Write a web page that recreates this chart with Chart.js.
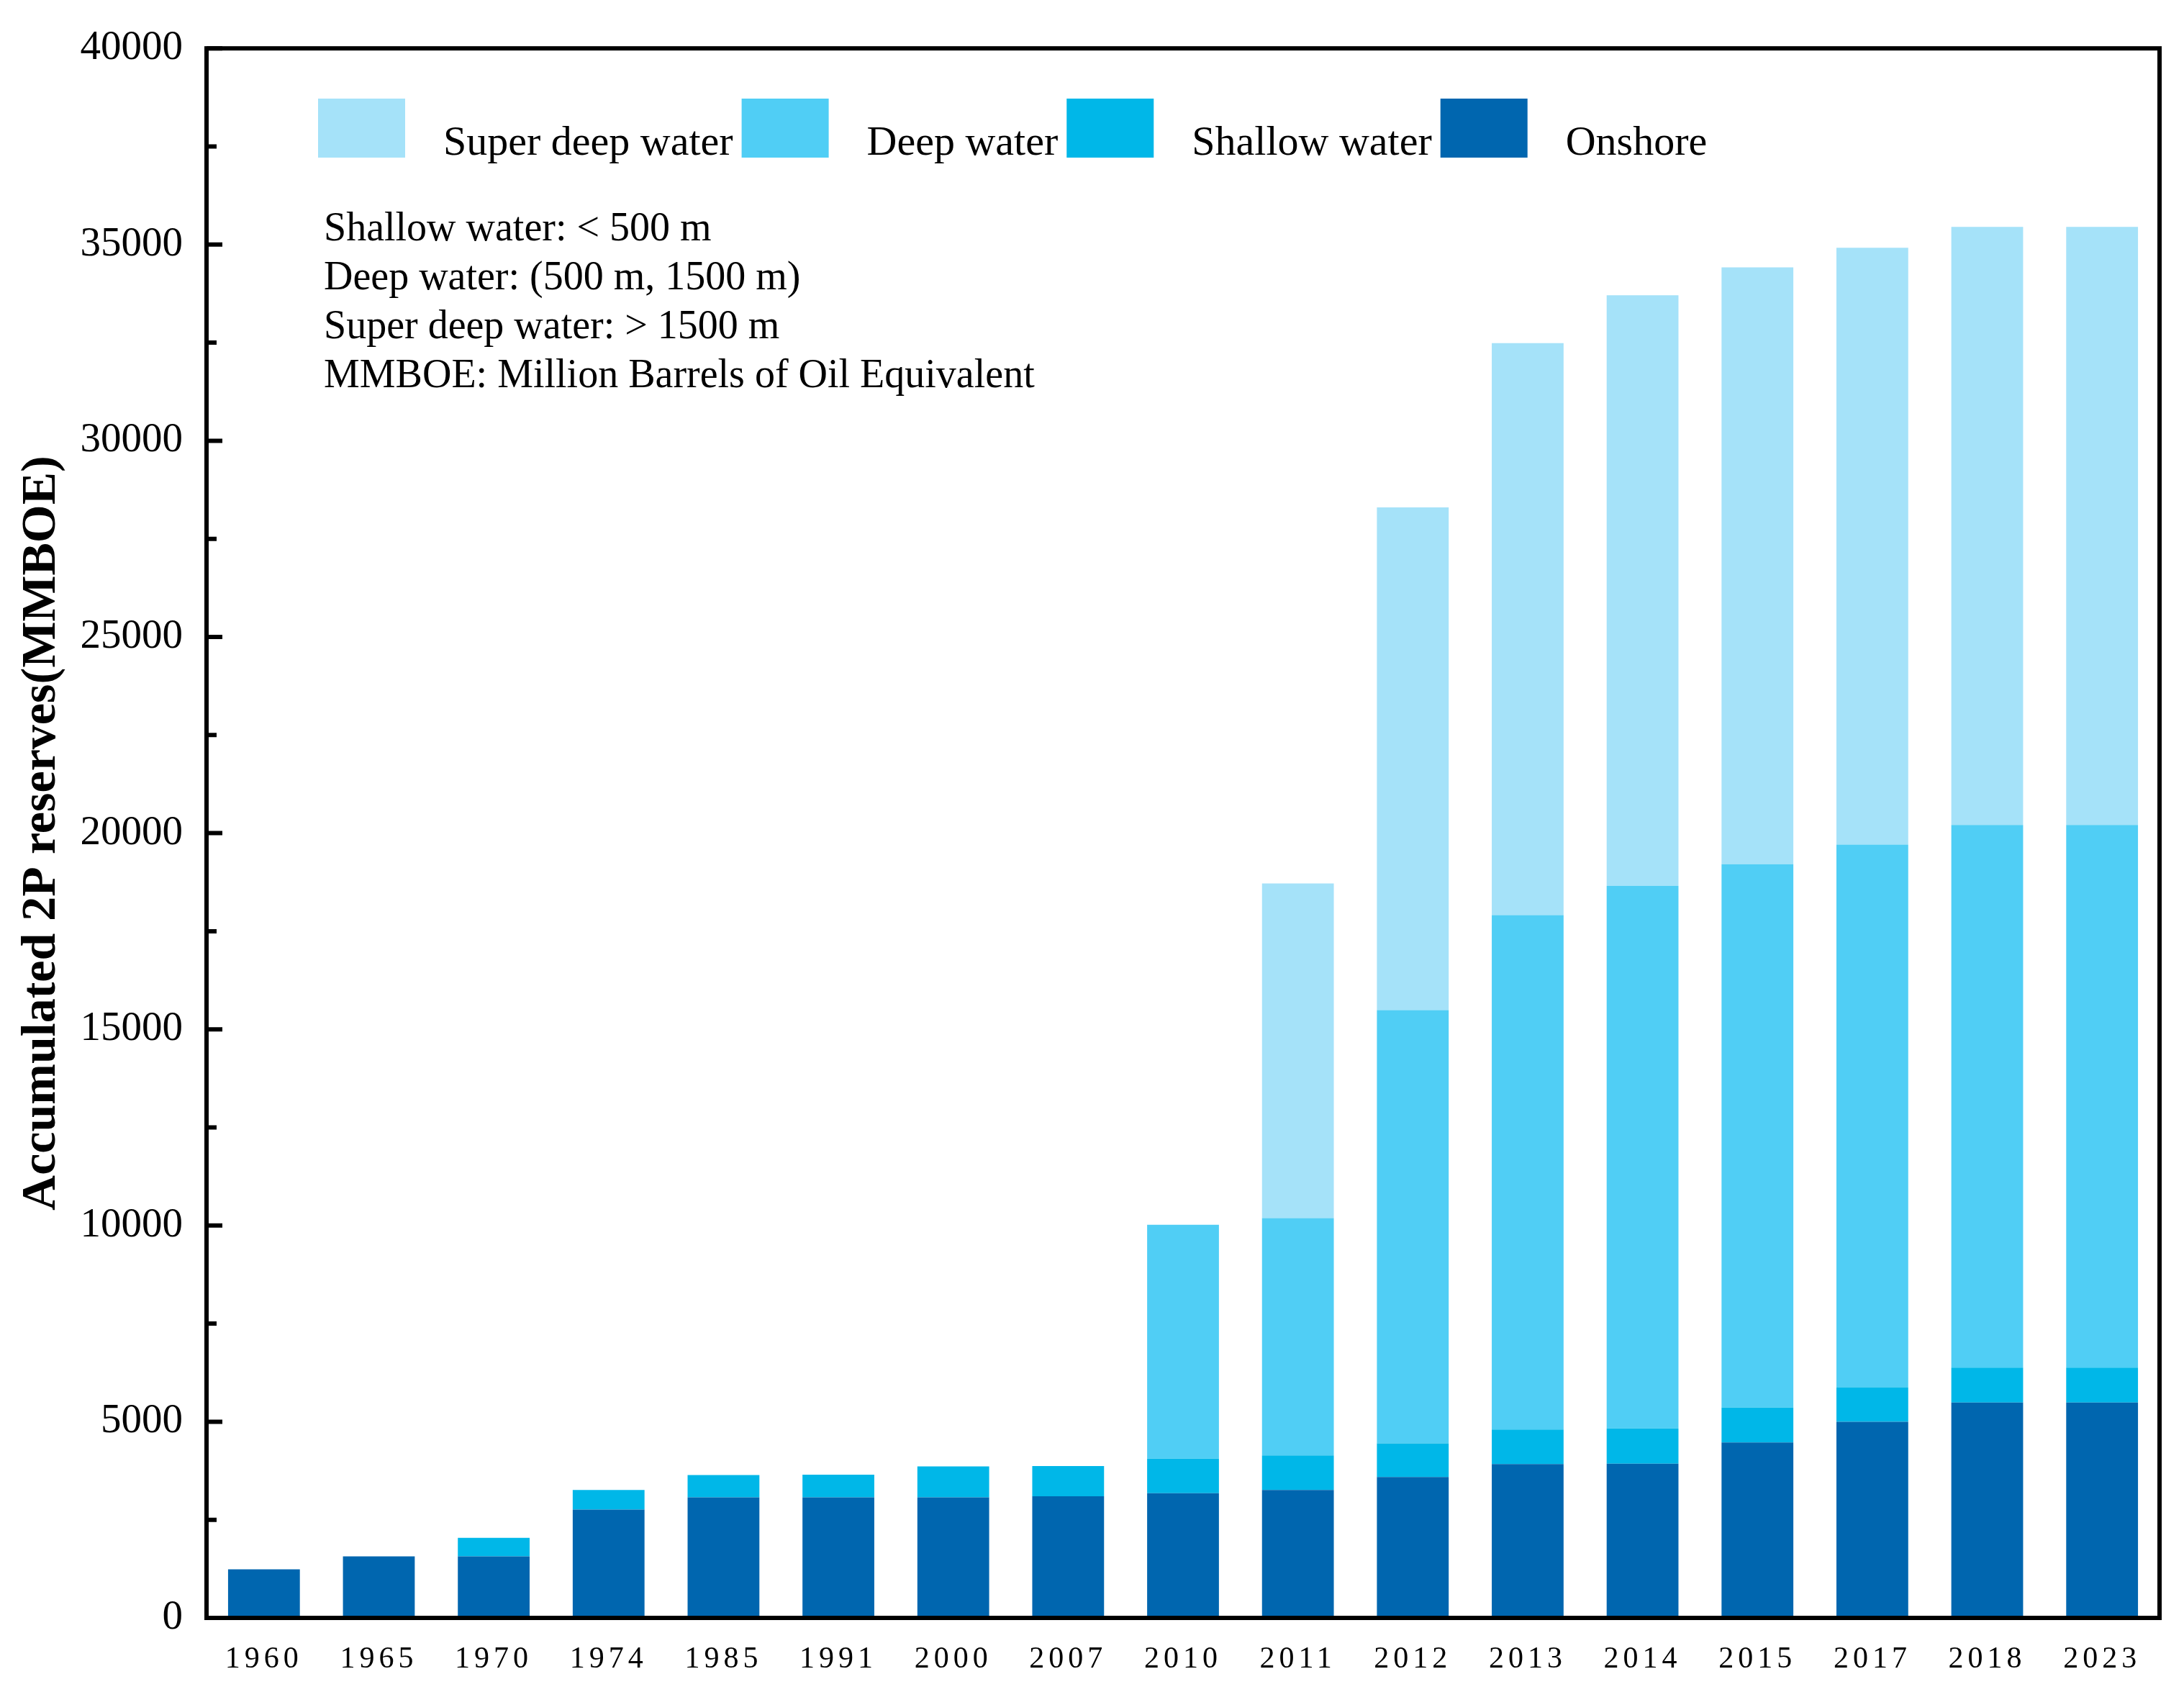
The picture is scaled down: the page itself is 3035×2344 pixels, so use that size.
<!DOCTYPE html>
<html>
<head>
<meta charset="utf-8">
<script src="https://cdn.jsdelivr.net/npm/chart.js@4.4.1/dist/chart.umd.min.js"></script>
<style>
  html, body { margin:0; padding:0; background:#fff; }
  canvas { display:block; }
</style>
</head>
<body>
<canvas id="chart" width="3035" height="2344"></canvas>
<script>
// ===== Data =====
const years = ["1960","1965","1970","1974","1985","1991","2000","2007","2010","2011","2012","2013","2014","2015","2017","2018","2023"];
const onshore   = [1240,1570,1570,2760,3070,3070,3070,3100,3180,3260,3590,3920,3930,4470,5000,5490,5490];
const shallow   = [0,0,470,500,570,580,790,770,880,880,860,880,900,890,880,890,890];
const deep      = [0,0,0,0,0,0,0,0,5960,6050,11040,13110,13830,13850,13830,13830,13830];
const superDeep = [0,0,0,0,0,0,0,0,0,8530,12810,14580,15050,15210,15210,15240,15240];

const yMin = 0, yMax = 40000, yStep = 5000;
const notes = [
  "Shallow water: < 500 m",
  "Deep water: (500 m, 1500 m)",
  "Super deep water: > 1500 m",
  "MMBOE: Million Barrels of Oil Equivalent"
];

// ===== Style =====
const FONT = "'Liberation Serif', 'Times New Roman', serif";
const COLORS = { onshore:"#0066AF", shallow:"#00B7E8", deep:"#50CEF5", superDeep:"#A5E2F9" };

Chart.defaults.font.family = FONT;
Chart.defaults.color = "#000";

// frame + inward y ticks
const framePlugin = {
  id: "frame",
  afterDatasetsDraw(chart) {
    // x labels are drawn after datasets (ticks.z:1) -> spaced out like the reference
    chart.ctx.letterSpacing = "6px";
  },
  afterDraw(chart) {
    const ctx = chart.ctx;
    ctx.letterSpacing = "0px";
    const { left, right, top, bottom } = chart.chartArea;
    const y = chart.scales.y;
    ctx.save();
    ctx.strokeStyle = "#000";
    ctx.lineWidth = 6;
    ctx.beginPath();
    y.ticks.forEach((t, i) => {
      const py = y.getPixelForValue(t.value);
      ctx.moveTo(left, py); ctx.lineTo(left + 22, py);
      if (i < y.ticks.length - 1) {
        const pm = y.getPixelForValue((t.value + y.ticks[i + 1].value) / 2);
        ctx.moveTo(left, pm); ctx.lineTo(left + 14, pm);
      }
    });
    ctx.stroke();
    ctx.strokeRect(left, top, right - left, bottom - top);
    ctx.restore();
  }
};

// legend inside the plot, boxes with label to the right
const legendPlugin = {
  id: "boxLegend",
  afterDraw(chart) {
    const ctx = chart.ctx;
    ctx.save();
    ctx.font = `58px ${FONT}`;
    ctx.textBaseline = "alphabetic";
    let x = 442;
    const boxTop = 137, boxW = 121, boxH = 82;
    [...chart.data.datasets].reverse().forEach(ds => {
      ctx.fillStyle = ds.backgroundColor;
      ctx.fillRect(x, boxTop, boxW, boxH);
      x += boxW + 53;
      ctx.fillStyle = "#000";
      ctx.fillText(ds.label, x, 215);
      x += ctx.measureText(ds.label).width + 12;
    });
    // notes
    ctx.font = `56px ${FONT}`;
    ctx.textBaseline = "middle";
    notes.forEach((t, i) => ctx.fillText(t, 450, 319 + i * 68));
    ctx.restore();
  }
};

new Chart(document.getElementById("chart"), {
  type: "bar",
  data: {
    labels: years,
    datasets: [
      { label:"Onshore",          data:onshore,   backgroundColor:COLORS.onshore },
      { label:"Shallow water",    data:shallow,   backgroundColor:COLORS.shallow },
      { label:"Deep water",       data:deep,      backgroundColor:COLORS.deep },
      { label:"Super deep water", data:superDeep, backgroundColor:COLORS.superDeep }
    ]
  },
  options: {
    responsive: false,
    devicePixelRatio: 1,
    animation: false,
    layout: { padding: { top:59, right:34, left:0, bottom:0 } },
    datasets: { bar: { categoryPercentage:1, barPercentage:0.625, borderWidth:0 } },
    plugins: { legend:{ display:false }, tooltip:{ enabled:false } },
    scales: {
      x: {
        stacked: true,
        grid: { display:false, drawTicks:false },
        border: { display:false },
        ticks: { z:1, font:{ size:42 }, padding:33, maxRotation:0, autoSkip:false, color:"#000" },
        afterFit(s) { s.height = 96; }
      },
      y: {
        stacked: true,
        min: yMin, max: yMax,
        grid: { display:false, drawTicks:false },
        border: { display:false },
        ticks: { stepSize:yStep, font:{ size:57 }, padding:33, color:"#000", callback: v => String(v) },
        title: {
          display: true,
          text: "Accumulated 2P reserves(MMBOE)",
          font: { size:68, weight:"bold" },
          padding: { top:18, bottom:0 },
          color: "#000"
        },
        afterFit(s) { s.width = 287; }
      }
    }
  },
  plugins: [framePlugin, legendPlugin]
});
</script>
</body>
</html>
